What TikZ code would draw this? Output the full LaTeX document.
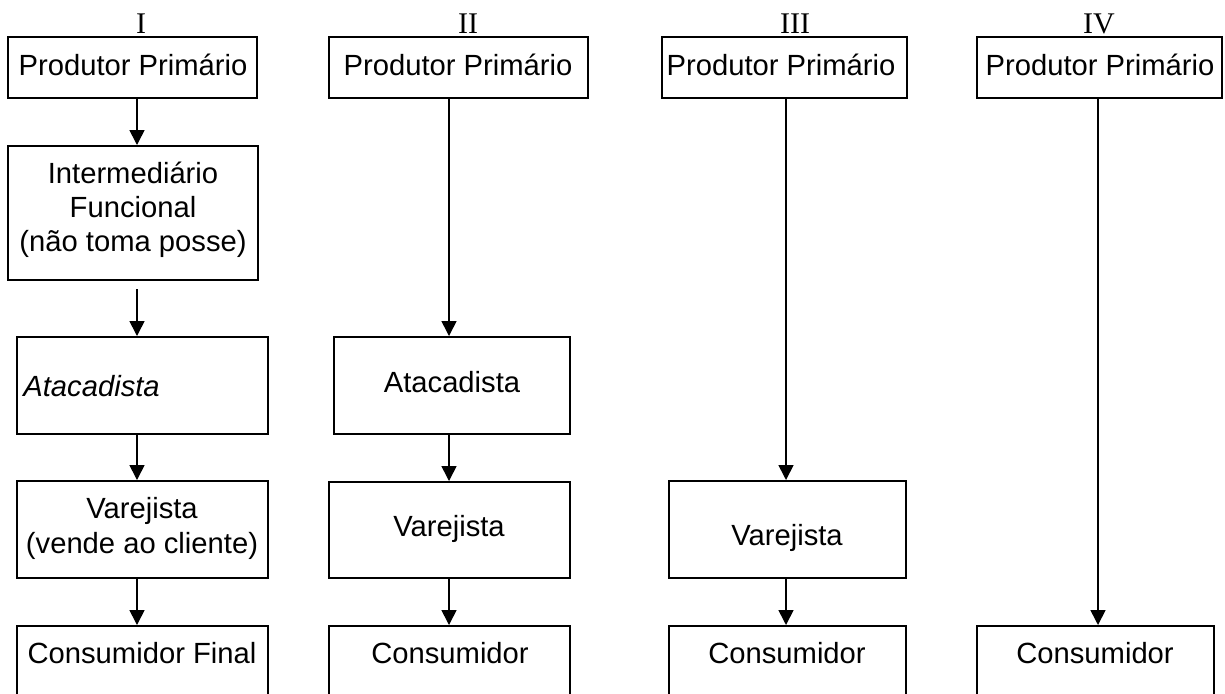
\documentclass[tikz,border=0pt]{standalone}
\usepackage{fontspec}
\setmainfont{Liberation Sans}
\newfontfamily\romanfont{Liberation Serif}
\usetikzlibrary{arrows.meta,fit}
\begin{document}
\begin{tikzpicture}[x=0.5pt,y=-0.5pt,
  box/.style={draw,line width=1pt,inner sep=0pt},
  txt/.style={inner sep=0pt,font=\fontsize{14.6pt}{17pt}\selectfont,align=center},
  num/.style={inner sep=0pt,anchor=base,font=\romanfont\fontsize{15pt}{17pt}\selectfont},
  arr/.style={line width=0.8pt,-{Triangle[length=7.5pt,width=7.5pt]}}]
\clip (0,0) rectangle (1225,693);
\fill[white] (0,0) rectangle (1225,693);
% column x for arrows
\coordinate (xa) at (137,0);
\coordinate (xb) at (449,0);
\coordinate (xc) at (786,0);
\coordinate (xd) at (1098,0);
% roman labels
\node[num] (n1) at (141,33) {I};
\node[num] (n2) at (468,33) {II};
\node[num] (n3) at (795,33) {III};
\node[num] (n4) at (1099,33) {IV};
% column I
\node[box,fit={(8,37) (257,98)}] (p1) {};
\node[txt,anchor=base] (tp1) at (133,75) {Produtor Primário};
\node[box,fit={(8,146) (258,280)}] (i1) {};
\node[txt] (ti1) at (133,210) {Intermediário\\Funcional\\(não toma posse)};
\coordinate (i1s) at (137,289);
\node[box,fit={(17,337) (268,434)}] (a1) {};
\node[txt,anchor=base west] (ta1) at (23,396) {\itshape Atacadista};
\node[box,fit={(17,481) (268,578)}] (v1) {};
\node[txt,anchor=base] (tv1) at (142,518) {Varejista};
\node[txt,anchor=base] (tv1b) at (142,553) {(vende ao cliente)};
\node[box,fit={(17,626) (268,760)}] (c1) {};
\node[txt,anchor=base] (tc1) at (142,663) {Consumidor Final};
\draw[arr] (p1.south -| xa) -- (i1.north -| xa);
\draw[arr] (i1s) -- (a1.north -| xa);
\draw[arr] (a1.south -| xa) -- (v1.north -| xa);
\draw[arr] (v1.south -| xa) -- (c1.north -| xa);
% column II
\node[box,fit={(329,37) (588,98)}] (p2) {};
\node[txt,anchor=base] (tp2) at (458,75) {Produtor Primário};
\node[box,fit={(334,337) (570,434)}] (a2) {};
\node[txt,anchor=base] (ta2) at (452,392) {Atacadista};
\node[box,fit={(329,482) (570,578)}] (v2) {};
\node[txt,anchor=base] (tv2) at (449,536) {Varejista};
\node[box,fit={(329,626) (570,760)}] (c2) {};
\node[txt,anchor=base] (tc2) at (450,663) {Consumidor};
\draw[arr] (p2.south -| xb) -- (a2.north -| xb);
\draw[arr] (a2.south -| xb) -- (v2.north -| xb);
\draw[arr] (v2.south -| xb) -- (c2.north -| xb);
% column III
\node[box,fit={(662,37) (907,98)}] (p3) {};
\node[txt,anchor=base] (tp3) at (781,75) {Produtor Primário};
\node[box,fit={(669,481) (906,578)}] (v3) {};
\node[txt,anchor=base] (tv3) at (787,545) {Varejista};
\node[box,fit={(669,626) (906,760)}] (c3) {};
\node[txt,anchor=base] (tc3) at (787,663) {Consumidor};
\draw[arr] (p3.south -| xc) -- (v3.north -| xc);
\draw[arr] (v3.south -| xc) -- (c3.north -| xc);
% column IV
\node[box,fit={(977,37) (1222,98)}] (p4) {};
\node[txt,anchor=base] (tp4) at (1100,75) {Produtor Primário};
\node[box,fit={(977,626) (1214,760)}] (c4) {};
\node[txt,anchor=base] (tc4) at (1095,663) {Consumidor};
\draw[arr] (p4.south -| xd) -- (c4.north -| xd);
\end{tikzpicture}
\end{document}
